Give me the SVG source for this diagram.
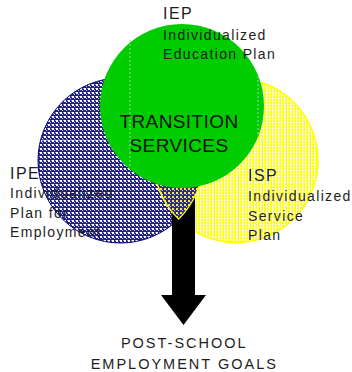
<svg xmlns="http://www.w3.org/2000/svg" width="352" height="372" viewBox="0 0 352 372">
  <defs>
    <!-- fine navy checker for the IPE circle -->
    <pattern id="navyCheck" width="4" height="4" patternUnits="userSpaceOnUse">
      <rect width="4" height="4" fill="#1e1e8c"/>
      <rect x="0" y="0" width="2" height="2" fill="#ffffff"/>
      <rect x="2" y="2" width="1" height="1" fill="#d8d8f2"/>
      <rect x="3" y="0" width="1" height="1" fill="#9a9ad0"/>
    </pattern>
    <!-- yellow dot screen for the ISP circle -->
    <pattern id="yellowDots" width="3" height="3" patternUnits="userSpaceOnUse">
      <rect width="3" height="3" fill="#ffff10"/>
      <rect x="2" y="0" width="1" height="3" fill="#ffffff"/>
      <rect x="0" y="2" width="1" height="1" fill="#ffffd0"/>
    </pattern>
    <!-- mixed screen where IPE and ISP overlap -->
    <pattern id="mixScreen" width="4" height="4" patternUnits="userSpaceOnUse">
      <rect width="4" height="4" fill="#2a2a90"/>
      <rect x="0" y="0" width="2" height="2" fill="#f0f040"/>
      <rect x="2" y="2" width="1" height="1" fill="#e6e6a0"/>
    </pattern>
    <style>
      .lbl { font-family: "Liberation Sans", Arial, sans-serif; fill: #1e1e1e; }
      .small { font-size: 14px; letter-spacing: 1.35px; }
      .head { font-size: 16px; letter-spacing: 1.5px; }
      .center { font-size: 19px; letter-spacing: 0.4px; fill: #111111; }
      .goal { font-size: 14.5px; letter-spacing: 2px; }
      .boxline { fill: none; stroke-width: 1; stroke-dasharray: 2 2; }
    </style>
  </defs>

  <!-- IPE circle -->
  <g id="ipe">
    <circle cx="120.5" cy="160.5" r="82.5" fill="url(#navyCheck)" stroke="#000080" stroke-width="1"/>
    <line class="boxline" x1="38" y1="140" x2="106" y2="140" stroke="#e0e0f4" stroke-opacity="0.8"/>
  </g>

  <!-- ISP circle -->
  <g id="isp">
    <circle cx="236" cy="160.5" r="82" fill="url(#yellowDots)" stroke="#ffff00" stroke-width="1.5"/>
  </g>

  <!-- connector: arrow down to the goals -->
  <g id="connectors">
    <polygon points="172,196 195,196 195,295 206,295 183.5,325 161,295 172,295" fill="#000000"/>
  </g>

  <!-- overlap of IPE and ISP -->
  <g id="overlap">
    <path d="M178.6,101.9 A82,82 0 0,0 178.6,219.1 A82.5,82.5 0 0,0 178.6,101.9 Z" fill="url(#mixScreen)" stroke="#ffff00" stroke-width="1.2"/>
  </g>

  <!-- IEP / transition services circle -->
  <g id="iep">
    <circle cx="182" cy="106" r="82" fill="#00cc00"/>
    <line class="boxline" x1="130" y1="40" x2="130" y2="168" stroke="#8fe08f"/>
    <line class="boxline" x1="258" y1="76" x2="258" y2="136" stroke="#8fe08f"/>
  </g>

  <!-- labels -->
  <g id="label-iep">
    <text class="lbl head" x="163" y="19">IEP</text>
    <text class="lbl small" x="163" y="39.5">Individualized</text>
    <text class="lbl small" x="163" y="58.5">Education Plan</text>
  </g>
  <g id="label-transition">
    <text class="lbl center" x="179" y="128" text-anchor="middle">TRANSITION</text>
    <text class="lbl center" x="179" y="152.3" text-anchor="middle">SERVICES</text>
  </g>
  <g id="label-ipe">
    <text class="lbl head" x="10" y="178.5">IPE</text>
    <text class="lbl small" x="10" y="198.3">Individualized</text>
    <text class="lbl small" x="10" y="217.5">Plan for</text>
    <text class="lbl small" x="10" y="236.7">Employment</text>
  </g>
  <g id="label-isp">
    <text class="lbl head" x="248" y="180.7">ISP</text>
    <text class="lbl small" x="248" y="201">Individualized</text>
    <text class="lbl small" x="248" y="220.7">Service</text>
    <text class="lbl small" x="248" y="240">Plan</text>
  </g>
  <g id="label-goals">
    <text class="lbl goal" x="184.3" y="347.7" text-anchor="middle">POST-SCHOOL</text>
    <text class="lbl goal" x="184.3" y="369" text-anchor="middle">EMPLOYMENT GOALS</text>
  </g>
</svg>
